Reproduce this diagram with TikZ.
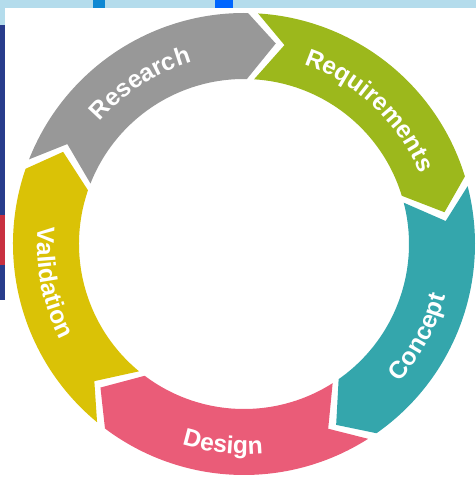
\documentclass[tikz,border=0pt]{standalone}
\usepackage{fontspec}
\setmainfont{Liberation Sans}
\usetikzlibrary{decorations.text}

\definecolor{resgray}{RGB}{152,152,152}
\definecolor{reqgreen}{RGB}{156,184,28}
\definecolor{conteal}{RGB}{52,166,172}
\definecolor{despink}{RGB}{234,92,120}
\definecolor{valyellow}{RGB}{218,194,6}
\definecolor{bandblue}{RGB}{180,220,236}
\definecolor{edgenavy}{RGB}{40,60,140}
\definecolor{edgered}{RGB}{200,48,64}
\newcommand{\ringfont}{\fontsize{14}{14}\selectfont\bfseries}

\begin{document}
\begin{tikzpicture}[x=0.02cm, y=0.02cm]
    \useasboundingbox (-244,-233) rectangle (232,244);
    % bits of the screenshot at the edges
    \fill [bandblue] (-244,236) rectangle (232,244);
    \fill [cyan!70!blue] (-151,236) rectangle (-139,244);
    \fill [blue!60!cyan] (-29,236) rectangle (-11,244);
    \fill [bandblue] (-244,219) rectangle (-239,236);
    \fill [edgenavy] (-244,29) rectangle (-239,219);
    \fill [edgered] (-244,-21) rectangle (-239,29);
    \fill [edgenavy] (-244,-56) rectangle (-239,-21);
    % the five pieces of the ring, head corners 72 degrees apart
    \foreach \h/\col in {89/resgray, 17/reqgreen, -55/conteal, -127/despink, -199/valyellow} {
        \pgfmathsetmacro{\tail}{\h+69.5}
        \fill [\col] (\tail:231) arc [start angle=\tail, end angle=\h, radius=231]
            -- (\h-8:203) -- (\h:165) arc [start angle=\h, end angle=\tail, radius=165]
            -- (\tail-8:203) -- cycle;
    }
    % labels
    \path [decorate, decoration={text along path, text color=white, text align=center,
        text={|\ringfont|Research}}] (157.8:189) arc [start angle=157.8, end angle=87.8, radius=189];
    \path [decorate, decoration={text along path, text color=white, text align=center,
        text={|\ringfont|Requirements}}] (86.7:189) arc [start angle=86.7, end angle=6.7, radius=189];
    \path [decorate, decoration={text along path, text color=white, text align=center,
        text={|\ringfont|Concept}}] (-63:208) arc [start angle=-63, end angle=7, radius=208];
    \path [decorate, decoration={text along path, text color=white, text align=center,
        text={|\ringfont|Design}}] (-131:210) arc [start angle=-131, end angle=-61, radius=210];
    \path [decorate, decoration={text along path, text color=white, text align=center,
        text={|\ringfont|Validation}}] (156.3:207) arc [start angle=156.3, end angle=226.3, radius=207];
\end{tikzpicture}
\end{document}
